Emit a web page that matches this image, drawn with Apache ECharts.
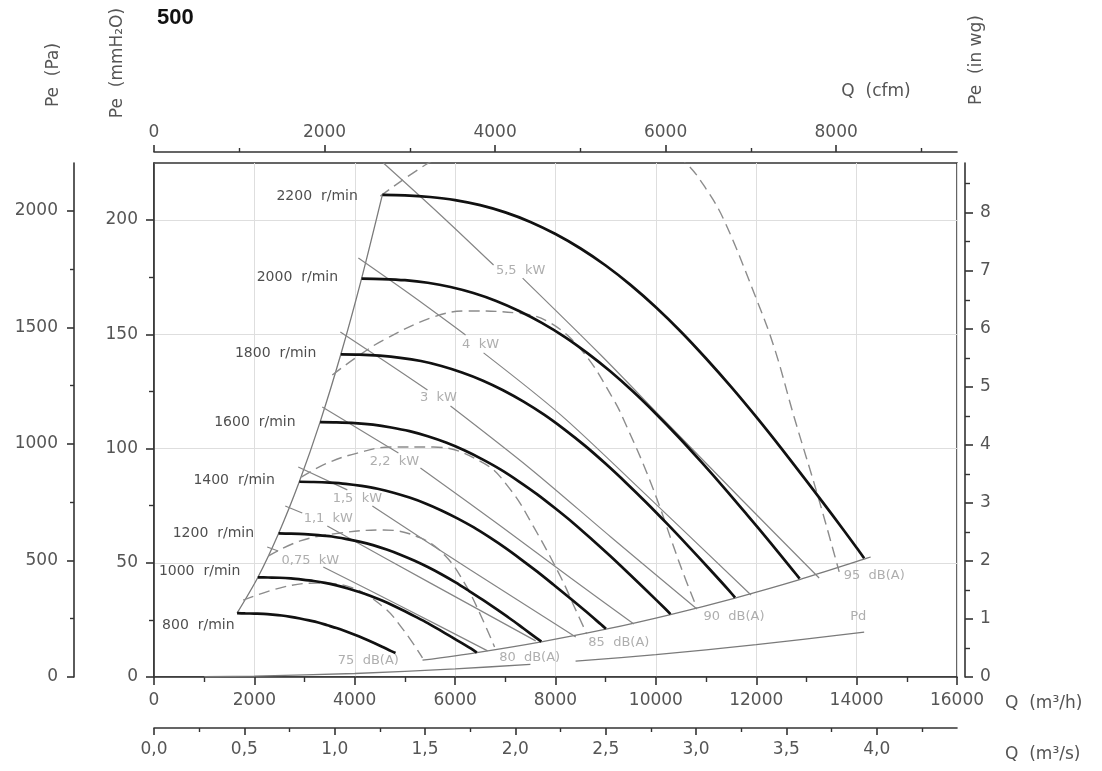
<!DOCTYPE html>
<html>
<head>
<meta charset="utf-8">
<script src="https://cdn.jsdelivr.net/npm/echarts@6/dist/echarts.min.js"></script>
<style>html,body{margin:0;padding:0;background:#fff}#c{width:1102px;height:771px}</style>
</head>
<body>
<div id="c"></div>
<script>
// ---------------- DATA (Q in m³/h, Pe in Pa) ----------------
const speedNames = ['800  r/min','1000  r/min','1200  r/min','1400  r/min','1600  r/min','1800  r/min','2000  r/min','2200  r/min'];
const rpm2200 = [[4550,2069],[5000,2067],[5500,2060],[6000,2047],[6500,2025],[7000,1994],[7500,1953],[8000,1901],[8500,1839],[9000,1766],[9500,1682],[10000,1587],[10500,1482],[11000,1367],[11500,1245],[12000,1116],[12500,981],[13000,842],[13500,700],[14000,555],[14150,510]];
const rpm2000 = [[4136,1710],[4545,1708],[5000,1703],[5455,1692],[5909,1674],[6364,1648],[6818,1614],[7273,1571],[7727,1520],[8182,1460],[8636,1390],[9091,1312],[9545,1225],[10000,1130],[10455,1029],[10909,922],[11364,811],[11818,696],[12273,579],[12727,459],[12864,422]];
const rpm1800 = [[3723,1385],[4091,1384],[4500,1379],[4909,1370],[5318,1356],[5727,1335],[6136,1307],[6545,1273],[6955,1231],[7364,1182],[7773,1126],[8182,1062],[8591,992],[9000,915],[9409,833],[9818,747],[10227,657],[10636,564],[11045,469],[11455,372],[11577,341]];
const rpm1600 = [[3309,1094],[3636,1093],[4000,1090],[4364,1083],[4727,1071],[5091,1055],[5455,1033],[5818,1006],[6182,973],[6545,934],[6909,890],[7273,839],[7636,784],[8000,723],[8364,659],[8727,590],[9091,519],[9455,445],[9818,370],[10182,294],[10291,270]];
const rpm1400 = [[2895,838],[3182,837],[3500,834],[3818,829],[4136,820],[4455,808],[4773,791],[5091,770],[5409,745],[5727,715],[6045,681],[6364,643],[6682,600],[7000,554],[7318,504],[7636,452],[7955,397],[8273,341],[8591,284],[8909,225],[9005,207]];
const rpm1200 = [[2482,616],[2727,615],[3000,613],[3273,609],[3545,603],[3818,593],[4091,581],[4364,566],[4636,547],[4909,525],[5182,500],[5455,472],[5727,441],[6000,407],[6273,370],[6545,332],[6818,292],[7091,251],[7364,208],[7636,165],[7718,152]];
const rpm1000 = [[2068,428],[2273,427],[2500,426],[2727,423],[2955,418],[3182,412],[3409,404],[3636,393],[3864,380],[4091,365],[4318,348],[4545,328],[4773,306],[5000,282],[5227,257],[5455,231],[5682,203],[5909,174],[6136,145],[6364,115],[6432,105]];
const rpm800  = [[1655,274],[1818,273],[2000,272],[2182,271],[2364,268],[2545,264],[2727,258],[2909,251],[3091,243],[3273,234],[3455,222],[3636,210],[3818,196],[4000,181],[4182,165],[4364,148],[4545,130],[4727,111],[4812,103]];

const leftLimit  = [[1655,274],[2068,427],[2482,616],[2895,838],[3309,1094],[3723,1385],[4136,1710],[4550,2069]];
const lowerLimit = [[5350,72],[6432,105],[7718,151],[9005,205],[10291,268],[11577,339],[12864,418],[14150,506],[14280,515]];
const pdLine     = [[1000,1],[2000,4],[4000,15],[6000,35],[7500,54],null,[8400,68],[10000,96],[12000,139],[14150,193]];

// power lines (null = break at the label)
const kw55  = [[4571,2206],[5709,1983],[6766,1768],null,[7345,1712],[8902,1382],[10160,1103],[11697,764],[13253,425]];
const kw4   = [[4072,1798],[5150,1635],[6208,1468],null,[6567,1391],[8104,1125],[9701,803],[11896,352]];
const kw3   = [[3713,1481],[4591,1356],[5449,1232],null,[5908,1163],[7505,893],[9102,601],[10818,292]];
const kw22  = [[3353,1159],[4112,1060],[4870,961],null,[5309,897],[6906,648],[8303,425],[9561,227]];
const kw15  = [[2874,901],[3852,803],null,[4351,734],[6307,459],[8403,172]];
const kw11  = [[2615,734],[2954,704],null,[3453,648],[5509,403],[7605,155]];
const kw075 = [[2255,558],[2475,541],null,[3373,472],[4910,305],[6647,112]];

// sound level (dashed) curves
const db75 = [[1776,330],[2575,386],[3253,403],[3912,386],[4571,300],[4970,202],[5349,82]];
const db80 = [[2275,519],[2914,584],[3713,618],[4571,631],[5309,597],[5808,519],[6208,395],[6507,266],[6786,129]];
const db85 = [[2934,858],[3453,918],[4052,961],[4711,987],[5569,987],[6567,918],[7106,803],[7565,644],[8104,429],[8403,288],[8623,185]];
const db90 = [[3553,1296],[4012,1369],[4571,1446],[5569,1545],[6247,1571],[7245,1562],[7904,1519],[8563,1391],[9162,1189],[9361,1103],[9900,833],[10499,472],[10818,296]];
const db95 = [[4511,2064],[5469,2206],[6507,2326],[7904,2399],[9301,2339],[10200,2260],[10599,2206],[11000,2095],[11357,1961],[11956,1648],[12355,1416],[12754,1116],[13233,773],[13653,451]];

const kwNames = ['5,5  kW','4  kW','3  kW','2,2  kW','1,5  kW','1,1  kW','0,75  kW'];
const kwLabelAt = [[7305,1743],[6507,1425],[5669,1197],[4790,923],[4052,764],[3473,678],[3114,498]];
const dbNames = ['75  dB(A)','80  dB(A)','85  dB(A)','90  dB(A)','95  dB(A)','Pd'];
const dbLabelAt = [[4271,69],[7485,82],[9262,146],[11557,258],[14351,433],[14032,258]];

// axis ticks
const qMajor = [0,2000,4000,6000,8000,10000,12000,14000,16000];
const qMinor = [1000,3000,5000,7000,9000,11000,13000,15000];
const cfmMajor = [0,2000,4000,6000,8000];
const cfmMinor = [1000,3000,5000,7000,9000];
const m3sMajor = [0,0.5,1,1.5,2,2.5,3,3.5,4];
const m3sMinor = [0.25,0.75,1.25,1.75,2.25,2.75,3.25,3.75,4.25];
const paMajor = [0,500,1000,1500,2000];
const paMinor = [250,750,1250,1750];
const mmMajor = [0,50,100,150,200];
const mmMinor = [25,75,125,175];
const inMajor = [0,1,2,3,4,5,6,7,8];
const inMinor = [0.5,1.5,2.5,3.5,4.5,5.5,6.5,7.5,8.5];

// ---------------- CHART ----------------
const PA_MAX = 2206, Q_MAX = 16000;
const PA_PER_MM = 9.80665, PA_PER_IN = 249.089, M3H_PER_CFM = 1.699011;
const FONT = 'DejaVu Sans', AX = '#333', LBL = '#555';

function axisPair(position, offset, max, major, minor, fmt, margin, tickLen, split, interval) {
  const base = {type:'value', gridIndex:0, position, offset, min:0, max};
  const a = Object.assign({}, base, {
    interval: interval,
    axisLine:{show:true, onZero:false, lineStyle:{color:AX, width:1.6}},
    axisTick:{show:true, length:tickLen, customValues:major, lineStyle:{color:AX, width:1.6}},
    axisLabel:{show:true, customValues:major, formatter:fmt, margin, color:LBL, fontSize:17, fontFamily:FONT},
    splitLine: split ? {show:true, lineStyle:{color:'#dedede', width:1}} : {show:false}
  });
  const b = Object.assign({}, base, {
    axisLine:{show:false, onZero:false},
    axisTick:{show:true, length:Math.round(tickLen*0.6), customValues:minor, lineStyle:{color:AX, width:1.4}},
    axisLabel:{show:false}, splitLine:{show:false}
  });
  return [a, b];
}
const intFmt = v => String(Math.round(v));
const commaFmt = v => v.toFixed(1).replace('.', ',');

const xAxes = [].concat(
  axisPair('bottom', 0, Q_MAX, qMajor, qMinor, intFmt, 15, 8, true, 2000),
  axisPair('top', 11, Q_MAX / M3H_PER_CFM, cfmMajor, cfmMinor, intFmt, 11, 7, false),
  axisPair('bottom', 51, Q_MAX / 3600, m3sMajor, m3sMinor, commaFmt, 13, 7, false)
);
const yAxes = [].concat(
  axisPair('left', 80, PA_MAX, paMajor, paMinor, intFmt, 16, 7, false),
  axisPair('left', 0, PA_MAX / PA_PER_MM, mmMajor, mmMinor, intFmt, 16, 8, true, 50),
  axisPair('right', 8, PA_MAX / PA_PER_IN, inMajor, inMinor, intFmt, 15, 8, false)
);

function segments(arr) {
  const out = []; let cur = [];
  arr.forEach(p => { if (p === null) { if (cur.length) out.push(cur); cur = []; } else cur.push(p); });
  if (cur.length) out.push(cur);
  return out;
}
const series = [];
function line(data, color, width, type, smooth, z) {
  series.push({type:'line', xAxisIndex:0, yAxisIndex:0, data, showSymbol:false, symbol:'none',
    smooth: smooth, clip:true, silent:true, z: z,
    lineStyle:{color, width, type, cap:'butt'}});
}
line(leftLimit, '#7a7a7a', 1.3, 'solid', 0.3, 2);
line(lowerLimit, '#7a7a7a', 1.3, 'solid', 0.3, 2);
segments(pdLine).forEach(s => line(s, '#7a7a7a', 1.3, 'solid', 0.3, 2));
[kw55, kw4, kw3, kw22, kw15, kw11, kw075].forEach(k => segments(k).forEach(s => line(s, '#858585', 1.2, 'solid', 0.3, 2)));
[db75, db80, db85, db90, db95].forEach(d => line(d, '#8c8c8c', 1.4, [11, 6], 0.4, 3));
const fans = [rpm800, rpm1000, rpm1200, rpm1400, rpm1600, rpm1800, rpm2000, rpm2200];
fans.forEach(f => line(f, '#111', 2.7, 'solid', 0.3, 5));

// labels
const rpmOffsets = [[22,12],[7,-6],[0,0],[0,-1],[0,0],[0,-1],[1,-1],[0,1]];
series.push({type:'scatter', xAxisIndex:0, yAxisIndex:0, silent:true, z:10, symbolSize:1,
  itemStyle:{color:'rgba(0,0,0,0)'},
  label:{show:true, position:'left', distance:24, formatter:'{b}', color:'#222', fontSize:14, fontFamily:FONT},
  data: fans.map((f, i) => ({name: speedNames[i], value: f[0], label:{offset: rpmOffsets[i]}}))
});
series.push({type:'scatter', xAxisIndex:0, yAxisIndex:0, silent:true, z:10, symbolSize:1,
  itemStyle:{color:'rgba(0,0,0,0)'},
  label:{show:true, position:'inside', formatter:'{b}', color:'#9a9a9a', fontSize:13, fontFamily:FONT},
  data: kwNames.map((n, i) => ({name:n, value:kwLabelAt[i]}))
});
series.push({type:'scatter', xAxisIndex:0, yAxisIndex:0, silent:true, z:10, symbolSize:1,
  itemStyle:{color:'rgba(0,0,0,0)'},
  label:{show:true, position:'inside', formatter:'{b}', color:'#9a9a9a', fontSize:13, fontFamily:FONT},
  data: dbNames.map((n, i) => ({name:n, value:dbLabelAt[i]}))
});

function txt(text, x, y, opts) {
  return {type:'text', x, y, silent:true, style: Object.assign({
    text, fill:LBL, font:'17px "DejaVu Sans"', align:'center', verticalAlign:'middle',
    textAlign:'center', textVerticalAlign:'middle'}, opts || {})};
}
const rot = Math.PI / 2;
const graphics = [
  txt('500', 157, 18, {fill:'#111', font:'bold 22px "Liberation Sans"', align:'left', textAlign:'left'}),
  Object.assign(txt('Pe  (Pa)', 54, 75), {rotation: rot}),
  Object.assign(txt('Pe  (mmH₂O)', 118, 63), {rotation: rot}),
  Object.assign(txt('Pe  (in wg)', 977, 60), {rotation: rot}),
  txt('Q  (cfm)', 876, 92),
  txt('Q  (m³/h)', 1005, 704, {align:'left', textAlign:'left'}),
  txt('Q  (m³/s)', 1005, 755, {align:'left', textAlign:'left'})
];

const chart = echarts.init(document.getElementById('c'));
chart.setOption({
  animation:false,
  backgroundColor:'#fff',
  textStyle:{fontFamily:FONT},
  grid:{left:154, top:163, width:803, height:514, show:true, borderColor:'#333', borderWidth:1.5, backgroundColor:'rgba(0,0,0,0)', containLabel:false},
  xAxis: xAxes,
  yAxis: yAxes,
  series,
  graphic: graphics
});
</script>
</body>
</html>
